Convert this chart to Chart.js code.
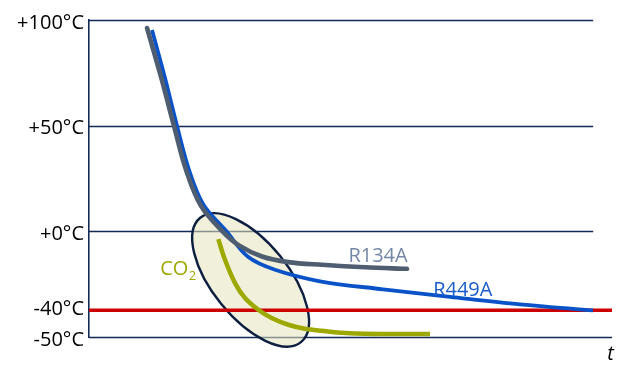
<!DOCTYPE html>
<html>
<head>
<meta charset="utf-8">
<script src="https://cdn.jsdelivr.net/npm/chart.js@4/dist/chart.umd.min.js"></script>
<style>
  html, body { margin: 0; padding: 0; background: #ffffff; }
  #c { display: block; }
</style>
</head>
<body>
<canvas id="c" width="630" height="379"></canvas>
<script>
// ---- data (schematic temperature curves over time t) ----
const tR449A = [12.05, 14.53, 16.83, 19.12, 21.89, 26.20, 30.40, 35.56, 44.17, 56.21, 69.02, 82.41, 96.37];
const vR449A = [95.27, 72.58, 49.88, 29.08, 12.53, 0.24, -12.06, -18.20, -23.64, -27.42, -30.97, -34.52, -37.45];

const tR134A = [11.09, 13.77, 16.25, 18.55, 21.41, 25.62, 28.68, 33.08, 38.05, 44.55, 52.77, 60.80];
const vR134A = [96.22, 73.05, 49.88, 29.08, 12.06, -0.24, -6.62, -11.92, -14.56, -15.84, -17.02, -17.73];

const tCO2 = [24.72, 26.00, 27.92, 29.83, 32.37, 34.93, 38.11, 41.30, 44.49, 49.90, 57.55, 65.20];
const vCO2 = [-3.69, -13.48, -24.49, -31.58, -37.12, -41.04, -44.21, -46.10, -47.04, -48.23, -48.61, -48.61];

const tLimit = [0, 100];
const vLimit = [-37.4, -37.4];

const tickValues = [100, 50, 0, -35.5, -50];
const tickLabels = ['+100°C', '+50°C', '+0°C', '-40°C', '-50°C'];
const gridValues = [100, 50, 0];
const seriesNames = ['CO2', 'R134A', 'R449A', '-40°C'];

const zip = (xs, ys) => xs.map((x, i) => ({ x: x, y: ys[i] }));

const FONT = '"Open Sans", "Liberation Sans", sans-serif';
const NAVY = '#132a55';

const decor = {
  id: 'decor',
  beforeDatasetsDraw(chart) {
    const ctx = chart.ctx;
    const xs = chart.scales.x, ys = chart.scales.y;
    const left = chart.chartArea.left;
    ctx.save();
    // horizontal grid lines
    ctx.strokeStyle = NAVY;
    ctx.lineWidth = 1.6;
    gridValues.forEach(v => {
      const y = Math.round(ys.getPixelForValue(v)) + 0.5;
      ctx.beginPath();
      ctx.moveTo(left, y);
      ctx.lineTo(xs.getPixelForValue(96.4), y);
      ctx.stroke();
    });
    // bottom axis line
    const yb = Math.round(ys.getPixelForValue(-50)) + 0.5;
    ctx.beginPath();
    ctx.moveTo(left, yb);
    ctx.lineTo(chart.chartArea.right, yb);
    ctx.stroke();
    // highlight ellipse around the CO2 region
    const cx = xs.getPixelForValue(30.9);
    const cy = ys.getPixelForValue(-23.0);
    ctx.beginPath();
    ctx.ellipse(cx, cy, 80, 38, 51 * Math.PI / 180, 0, Math.PI * 2);
    ctx.fillStyle = 'rgba(230,230,190,0.55)';
    ctx.fill();
    ctx.lineWidth = 2.4;
    ctx.strokeStyle = '#0d1f40';
    ctx.stroke();
    ctx.restore();
  },
  afterDraw(chart) {
    const ctx = chart.ctx;
    const xs = chart.scales.x, ys = chart.scales.y;
    ctx.save();
    ctx.textBaseline = 'alphabetic';
    ctx.textAlign = 'left';
    ctx.font = '20px ' + FONT;
    // R134A label
    ctx.fillStyle = '#7287a6';
    ctx.fillText('R134A', xs.getPixelForValue(49.6), ys.getPixelForValue(-14.7));
    // R449A label
    ctx.fillStyle = '#1a5ccc';
    ctx.fillText('R449A', xs.getPixelForValue(65.8), ys.getPixelForValue(-30.8));
    // CO2 label
    ctx.fillStyle = '#a0a800';
    const x0 = xs.getPixelForValue(13.6), y0 = ys.getPixelForValue(-20.6);
    ctx.fillText('CO', x0, y0);
    const w = ctx.measureText('CO').width;
    ctx.font = '13px ' + FONT;
    ctx.fillText('2', x0 + w + 0.5, y0 + 5);
    // t axis label
    ctx.fillStyle = '#000000';
    ctx.font = 'italic 20px ' + FONT;
    ctx.fillText('t', xs.getPixelForValue(99.1), ys.getPixelForValue(-60.8));
    ctx.restore();
  }
};

new Chart(document.getElementById('c'), {
  type: 'line',
  data: {
    datasets: [
      { label: seriesNames[0], data: zip(tCO2, vCO2), borderColor: '#9da800', borderWidth: 4.5 },
      { label: seriesNames[1], data: zip(tR134A, vR134A), borderColor: '#4f5d70', borderWidth: 4.6, borderCapStyle: 'round' },
      { label: seriesNames[2], data: zip(tR449A, vR449A), borderColor: '#0a52c8', borderWidth: 3.8 },
      { label: seriesNames[3], data: zip(tLimit, vLimit), borderColor: '#cc0000', borderWidth: 3.5, tension: 0 }
    ]
  },
  options: {
    responsive: false,
    animation: false,
    devicePixelRatio: 1,
    layout: { padding: { top: 20, right: 18, bottom: 42, left: 0 } },
    elements: {
      point: { radius: 0 },
      line: { tension: 0.35, borderCapStyle: 'butt', fill: false }
    },
    plugins: { legend: { display: false }, tooltip: { enabled: false } },
    scales: {
      x: { type: 'linear', min: 0, max: 100, display: false },
      y: {
        type: 'linear', min: -50, max: 100,
        grid: { display: false, drawTicks: false },
        border: { display: true, color: NAVY, width: 1.6 },
        afterBuildTicks: (s) => { s.ticks = tickValues.map(v => ({ value: v })); },
        afterFit: (s) => { s.width = 89; },
        ticks: {
          padding: 5,
          labelOffset: 3,
          color: '#000000',
          font: { family: FONT, size: 20 },
          callback: (v) => tickLabels[tickValues.indexOf(v)]
        }
      }
    }
  },
  plugins: [decor]
});
</script>
</body>
</html>
